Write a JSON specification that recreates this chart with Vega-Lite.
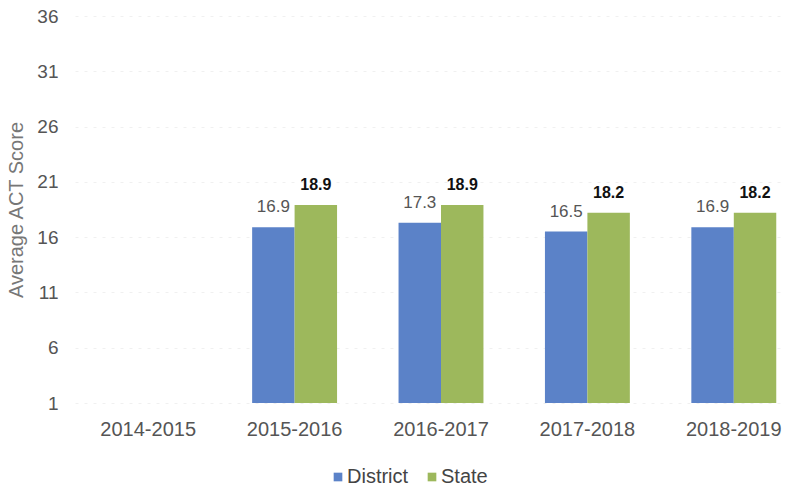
{
  "$schema": "https://vega.github.io/schema/vega-lite/v6.json",
  "autosize": "none",
  "width": 732,
  "height": 387,
  "padding": {"left": 75, "top": 16, "right": 0, "bottom": 86},
  "background": "white",
  "config": {"view": {"stroke": null}, "font": "Liberation Sans"},
  "data": {"values": [
    {"year": "2015-2016", "series": "District", "value": 16.9},
    {"year": "2015-2016", "series": "State", "value": 18.9},
    {"year": "2016-2017", "series": "District", "value": 17.3},
    {"year": "2016-2017", "series": "State", "value": 18.9},
    {"year": "2017-2018", "series": "District", "value": 16.5},
    {"year": "2017-2018", "series": "State", "value": 18.2},
    {"year": "2018-2019", "series": "District", "value": 16.9},
    {"year": "2018-2019", "series": "State", "value": 18.2}
  ]},
  "encoding": {
    "x": {"field": "year", "type": "nominal",
      "scale": {"domain": ["2014-2015", "2015-2016", "2016-2017", "2017-2018", "2018-2019"], "paddingInner": 0.42, "paddingOuter": 0.21},
      "axis": {"title": null, "labelAngle": 0, "labelFontSize": 20, "labelColor": "#555", "labelPadding": 16, "ticks": false, "domain": false}},
    "xOffset": {"field": "series", "type": "nominal", "scale": {"domain": ["District", "State"]}},
    "y": {"field": "value", "type": "quantitative",
      "scale": {"domain": [1, 36], "zero": false, "nice": false},
      "axis": {"title": "Average ACT Score", "values": [1, 6, 11, 16, 21, 26, 31, 36], "labelFontSize": 19, "labelColor": "#555", "labelPadding": 17, "ticks": false, "domain": false, "gridColor": "#f0f0f0", "gridDash": [3, 6], "titleFontSize": 20, "titleFontWeight": "normal", "titleColor": "#777", "titlePadding": 10}}
  },
  "layer": [
    {
      "mark": {"type": "bar"},
      "encoding": {
        "y2": {"datum": 1},
        "color": {"field": "series", "type": "nominal",
          "scale": {"domain": ["District", "State"], "range": ["#5b82c8", "#9db85c"]},
          "legend": {"title": null, "orient": "none", "legendX": 253, "legendY": 451, "direction": "horizontal", "symbolType": "square", "symbolSize": 75, "labelFontSize": 20, "labelColor": "#444", "labelOffset": -1, "columnPadding": 13, "symbolStrokeWidth": 0}}
      }
    },
    {
      "transform": [{"filter": "datum.series === 'District'"}],
      "mark": {"type": "text", "baseline": "alphabetic", "dy": -15, "fontSize": 17, "color": "#555"},
      "encoding": {"text": {"field": "value", "type": "quantitative", "format": ".1f"}}
    },
    {
      "transform": [{"filter": "datum.series === 'State'"}],
      "mark": {"type": "text", "baseline": "alphabetic", "dy": -15, "fontSize": 16, "fontWeight": "bold", "color": "#111"},
      "encoding": {"text": {"field": "value", "type": "quantitative", "format": ".1f"}}
    }
  ]
}
